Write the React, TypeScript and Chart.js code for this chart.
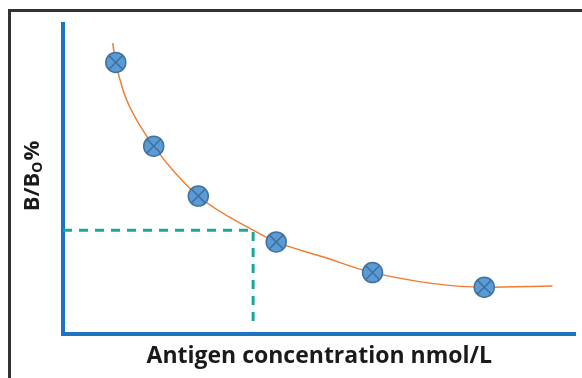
import { useEffect, useRef } from "react";
import { Chart, registerables } from "chart.js";

Chart.register(...registerables);

// Measured points (x: nmol/L, arbitrary units 0-10; y: B/Bo %)
const pointX = [1.03, 1.77, 2.64, 4.16, 6.04, 8.22];
const pointY = [87.6, 60.6, 44.5, 29.7, 19.8, 15.1];

// Fitted curve
const curveX = [0.97, 1.03, 1.17, 1.3, 1.77, 2.64, 3.71, 4.16, 5.07, 6.04, 8.22, 9.55];
const curveY = [93.8, 87.6, 78.7, 73.3, 60.6, 44.5, 33.5, 29.7, 24.9, 19.8, 15.1, 15.5];

// Dashed read-off guide
const guideX = [0, 3.71, 3.71];
const guideY = [33.5, 33.5, 2.4];

const xTitle = "Antigen concentration nmol/L";
const yTitleMain = "B/B";
const yTitleSub = "O";
const yTitleEnd = "%";

const FONT = "'Open Sans', Lato, sans-serif";

const yTitlePlugin = {
  id: "yTitleSub",
  afterDraw(chart: any) {
    const ctx = chart.ctx as CanvasRenderingContext2D;
    const area = chart.chartArea;
    const big = `bold 22px ${FONT}`;
    const small = `bold 14px ${FONT}`;
    ctx.save();
    ctx.fillStyle = "#1a1a1a";
    ctx.textBaseline = "alphabetic";
    ctx.textAlign = "left";
    ctx.font = big;
    const w1 = ctx.measureText(yTitleMain).width;
    const w3 = ctx.measureText(yTitleEnd).width;
    ctx.font = small;
    const w2 = ctx.measureText(yTitleSub).width;
    const total = w1 + w2 + w3 + 1;
    const cy = (area.top + area.bottom) / 2 - 3;
    ctx.translate(39, cy);
    ctx.rotate(-Math.PI / 2);
    let x = -total / 2;
    ctx.font = big;
    ctx.fillText(yTitleMain, x, 0);
    x += w1;
    ctx.font = small;
    ctx.fillText(yTitleSub, x, 3);
    x += w2 + 1;
    ctx.font = big;
    ctx.fillText(yTitleEnd, x, 0);
    ctx.restore();
  },
};

export default function App() {
  const ref = useRef<HTMLCanvasElement | null>(null);

  useEffect(() => {
    if (!ref.current) return;
    const toXY = (xs: number[], ys: number[]) => xs.map((x, i) => ({ x, y: ys[i] }));
    const chart = new Chart(ref.current, {
      type: "scatter",
      data: {
        datasets: [
          {
            label: "cross",
            data: toXY(pointX, pointY),
            pointStyle: "crossRot",
            pointRadius: 10,
            pointBorderColor: "#3E6F9E",
            pointBorderWidth: 1.5,
            showLine: false,
            order: 0,
          },
          {
            label: "points",
            data: toXY(pointX, pointY),
            pointStyle: "circle",
            pointRadius: 10,
            pointBackgroundColor: "#5B9BD5",
            pointBorderColor: "#41719C",
            pointBorderWidth: 1.5,
            showLine: false,
            order: 1,
          },
          {
            label: "curve",
            type: "line",
            data: toXY(curveX, curveY),
            borderColor: "#ED7D31",
            borderWidth: 1.5,
            pointRadius: 0,
            cubicInterpolationMode: "monotone",
            fill: false,
            order: 2,
          } as any,
          {
            label: "guide",
            type: "line",
            data: toXY(guideX, guideY),
            borderColor: "#19A79B",
            borderWidth: 3,
            borderDash: [9, 7],
            pointRadius: 0,
            tension: 0,
            fill: false,
            order: 3,
          } as any,
        ],
      },
      options: {
        responsive: false,
        animation: false,
        layout: { autoPadding: false, padding: { top: 24, right: 6.5, left: 0, bottom: 0 } },
        plugins: { legend: { display: false }, tooltip: { enabled: false } },
        scales: {
          x: {
            type: "linear",
            min: 0,
            max: 10,
            ticks: { display: false },
            grid: { display: false },
            border: { display: true, color: "#1C74BF", width: 4 },
            title: {
              display: true,
              text: xTitle,
              color: "#1a1a1a",
              font: { family: FONT, size: 23, weight: "bold" },
              padding: { top: 0, bottom: 8 },
            },
            afterFit: (s: any) => {
              s.height = 44;
            },
          },
          y: {
            type: "linear",
            min: 0,
            max: 100,
            ticks: { display: false },
            grid: { display: false },
            border: { display: true, color: "#1C74BF", width: 4 },
            afterFit: (s: any) => {
              s.width = 63;
            },
          },
        },
      },
      plugins: [yTitlePlugin],
    });
    return () => chart.destroy();
  }, []);

  return (
    <>
      <div
        style={{
          position: "absolute",
          left: 8,
          top: 9,
          width: 574,
          height: 369,
          boxSizing: "border-box",
          borderLeft: "3px solid #333",
          borderTop: "3px solid #333",
        }}
      />
      <canvas
        ref={ref}
        width={582}
        height={378}
        style={{ position: "absolute", left: 0, top: 0, width: 582, height: 378 }}
      />
    </>
  );
}
